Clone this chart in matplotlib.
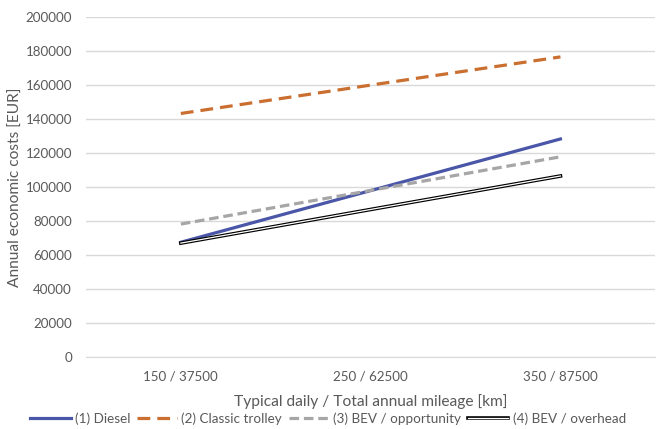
import matplotlib.pyplot as plt
import matplotlib.patheffects as pe

plt.rcParams['font.family'] = ['Lato', 'DejaVu Sans']

# 数据
categories = ['150 / 37500', '250 / 62500', '350 / 87500']
diesel = [67500, 97900, 128300]
trolley = [143300, 160000, 176600]
bev_opportunity = [78200, 98000, 117800]
bev_overhead = [67000, 86800, 106500]

grey = '#595959'
fig = plt.figure(figsize=(6.56, 4.29), dpi=100)
ax = fig.add_axes([0.131, 0.168, 0.868, 0.792])

x = range(len(categories))
ax.plot(x, diesel, color='#4A56A8', lw=2.3, label='(1) Diesel')
ax.plot(x, trolley, color='#CB6F30', lw=2.3, dashes=(4, 2.2), label='(2) Classic trolley')
ax.plot(x, bev_opportunity, color='#A6A6A6', lw=2.3, dashes=(3, 1.5), label='(3) BEV / opportunity')
ax.plot(x, bev_overhead, color='white', lw=0.9, label='(4) BEV / overhead',
        path_effects=[pe.Stroke(linewidth=2.6, foreground='black'), pe.Normal()])

ax.set_xlim(-0.5, 2.5)
ax.set_ylim(0, 200000)
ax.set_yticks(range(0, 200001, 20000))
ax.set_xticks(list(x))
ax.set_xticklabels(categories)
ax.grid(axis='y', color='#D9D9D9', lw=1)
ax.set_axisbelow(True)
for s in ax.spines.values():
    s.set_visible(False)
ax.spines['bottom'].set_visible(True)
ax.spines['bottom'].set_color('#D9D9D9')
ax.tick_params(length=0, labelsize=9.6, colors=grey)
ax.tick_params(axis='y', pad=10)
ax.tick_params(axis='x', pad=10)

ax.set_xlabel('Typical daily / Total annual mileage [km]', fontsize=11.2, color=grey, labelpad=8)
ax.set_ylabel('Annual economic costs [EUR]', fontsize=11.2, color=grey, labelpad=2)

fig.legend(loc='center', bbox_to_anchor=(0.5, 0.024), ncol=4, frameon=False,
           fontsize=9.7, labelcolor=grey, handlelength=3.0, handletextpad=0.3,
           columnspacing=0.5)

fig.savefig('out.png', dpi=100)
